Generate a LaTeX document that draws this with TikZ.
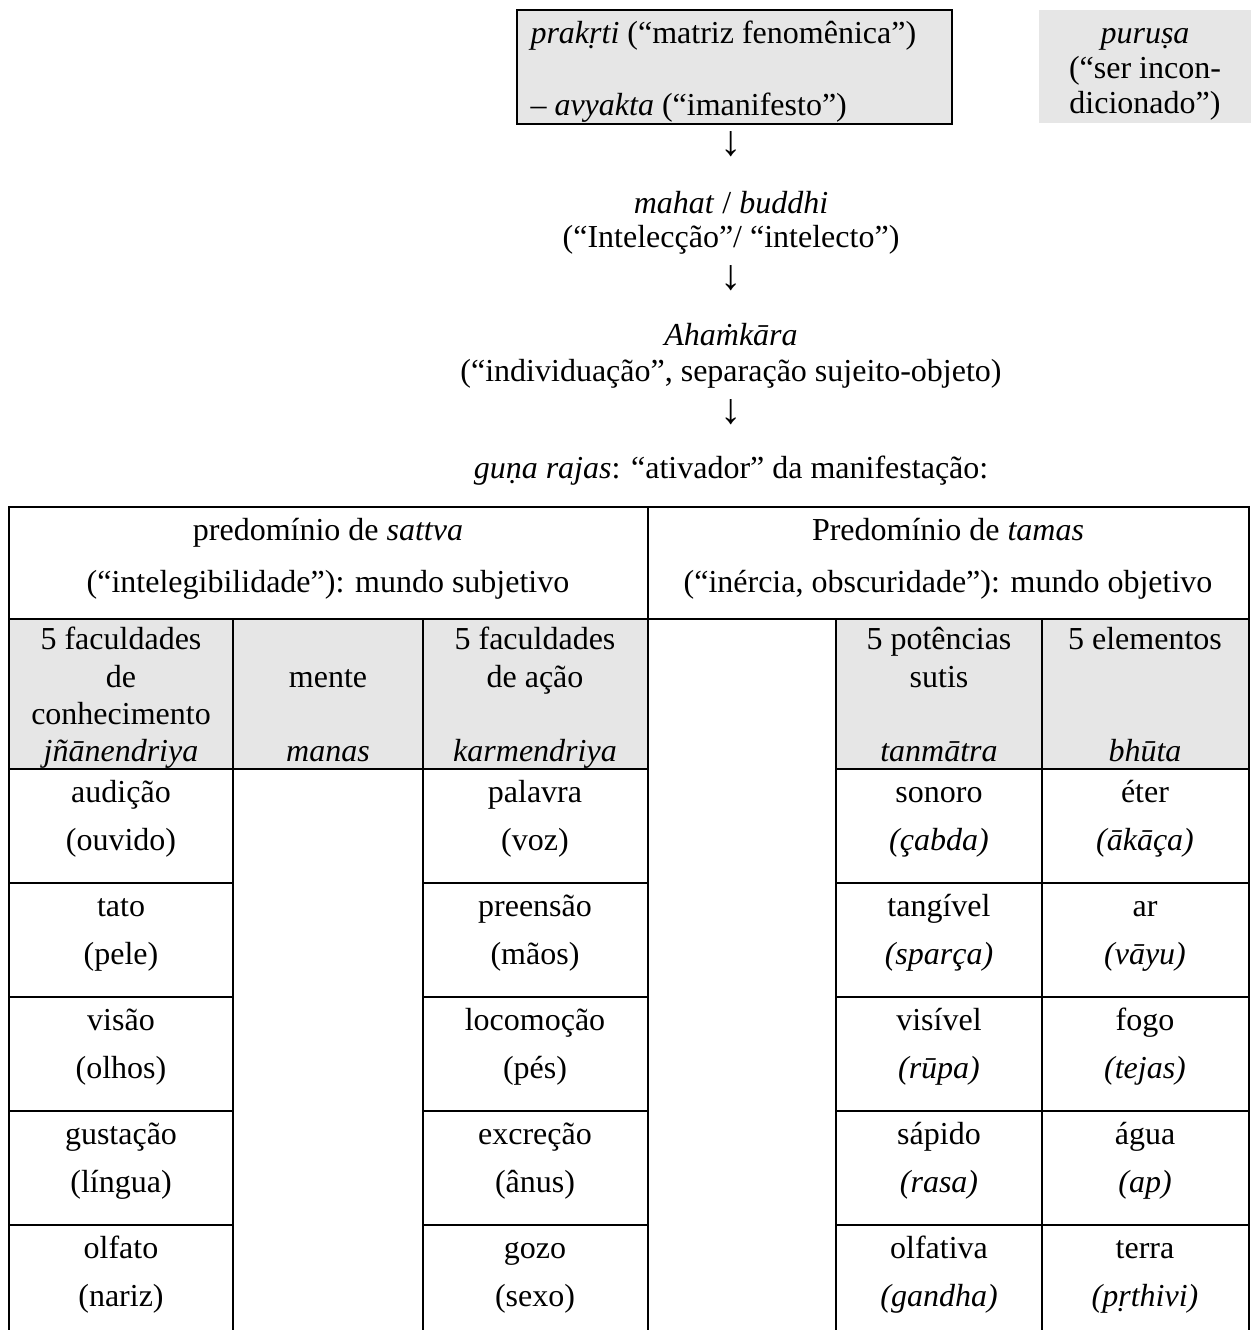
\documentclass[tikz,border=0pt]{standalone}
\usepackage{fontspec}
\setmainfont{Liberation Serif}
\usetikzlibrary{positioning}
\definecolor{cellgray}{RGB}{230,230,230}

\tikzset{
  toptext/.style={font=\fontsize{12}{14}\selectfont, anchor=base, inner sep=0pt},
  tabtext/.style={font=\fontsize{12}{14}\selectfont, anchor=base, inner sep=0pt},
  downarrow/.style={font=\fontsize{16}{18}\selectfont, anchor=base, inner sep=0pt},
  rule/.style={line width=0.8pt},
  graybox/.style={fill=cellgray, inner sep=0pt},
}

\begin{document}
\begin{tikzpicture}[x=0.375pt, y=-0.375pt]
  \useasboundingbox (0,0) rectangle (1252,1330);

  % top boxes
  \node[graybox, draw=black, rule, anchor=north west, minimum width=163.1pt, minimum height=42.8pt] (prakriti) at (516,9) {};
  \node[toptext, anchor=base west] (prak1) at (530,43) {\textit{prakṛti} (“matriz fenomênica”)};
  \node[toptext, anchor=base west] (prak2) at (530,115) {– \textit{avyakta} (“imanifesto”)};
  \node[graybox, anchor=north east, minimum width=79.5pt, minimum height=42.4pt] (purusa) at (1252,9) {};
  \node[toptext] (pur1) at (1145,43) {\textit{puruṣa}};
  \node[toptext] (pur2) at (1145,78) {(“ser incon-};
  \node[toptext] (pur3) at (1145,113) {dicionado”)};

  % chain of principles
  \node[downarrow] (arr1) at (731,155) {↓};
  \node[toptext] (mahat) at (731,213) {\textit{mahat} / \textit{buddhi}};
  \node[toptext] (intel) at (731,247) {(“Intelecção”/ “intelecto”)};
  \node[downarrow] (arr2) at (731,289) {↓};
  \node[toptext] (aham) at (731,345) {\textit{Ahaṁkāra}};
  \node[toptext] (indiv) at (731,381) {(“individuação”, separação sujeito-objeto)};
  \node[downarrow] (arr3) at (731,423) {↓};
  \node[toptext] (guna) at (731,478) {\textit{guṇa rajas}: “ativador” da manifestação:};

  % table shading
  \fill[cellgray] (9,619) rectangle (648,769);
  \fill[cellgray] (836,619) rectangle (1249,769);

  % table rules
  \draw[rule] (9,1330) -- (9,507) -- (1249,507) -- (1249,1330);
  \draw[rule] (648,507) -- (648,1330);
  \draw[rule] (9,619) -- (1249,619);
  \foreach \x in {233,423,836,1042}
    \draw[rule] (\x,619) -- (\x,1330);
  \draw[rule] (9,769) -- (648,769);
  \draw[rule] (836,769) -- (1249,769);
  \foreach \y in {883,997,1111,1225} {
    \draw[rule] (9,\y) -- (233,\y);
    \draw[rule] (423,\y) -- (648,\y);
    \draw[rule] (836,\y) -- (1249,\y);
  }

  % header
  \node[tabtext] (sattva) at (328,540) {predomínio de \textit{sattva}};
  \node[tabtext] (sattvab) at (328,592) {(“intelegibilidade”): mundo subjetivo};
  \node[tabtext] (tamas) at (948,540) {Predomínio de \textit{tamas}};
  \node[tabtext] (tamasb) at (948,592) {(“inércia, obscuridade”): mundo objetivo};

  % sub-header
  \node[tabtext] (jnana1) at (121,649) {5 faculdades};
  \node[tabtext] (jnana2) at (121,687) {de};
  \node[tabtext] (jnana3) at (121,724) {conhecimento};
  \node[tabtext] (jnana4) at (121,761) {\textit{jñānendriya}};
  \node[tabtext] (manas1) at (328,687) {mente};
  \node[tabtext] (manas2) at (328,761) {\textit{manas}};
  \node[tabtext] (karma1) at (535,649) {5 faculdades};
  \node[tabtext] (karma2) at (535,687) {de ação};
  \node[tabtext] (karma3) at (535,761) {\textit{karmendriya}};
  \node[tabtext] (tanma1) at (939,649) {5 potências};
  \node[tabtext] (tanma2) at (939,687) {sutis};
  \node[tabtext] (tanma3) at (939,761) {\textit{tanmātra}};
  \node[tabtext] (bhuta1) at (1145,649) {5 elementos};
  \node[tabtext] (bhuta2) at (1145,761) {\textit{bhūta}};

  % body rows
  \foreach \a/\b [count=\i] in {audição/(ouvido), tato/(pele), visão/(olhos), gustação/(língua), olfato/(nariz)} {
    \node[tabtext] (sense\i) at (121,{688+114*\i}) {\a};
    \node[tabtext] (organ\i) at (121,{736+114*\i}) {\b};
  }
  \foreach \a/\b [count=\i] in {palavra/(voz), preensão/(mãos), locomoção/(pés), excreção/(ânus), gozo/(sexo)} {
    \node[tabtext] (act\i) at (535,{688+114*\i}) {\a};
    \node[tabtext] (limb\i) at (535,{736+114*\i}) {\b};
  }
  \foreach \a/\b [count=\i] in {sonoro/(çabda), tangível/(sparça), visível/(rūpa), sápido/(rasa), olfativa/(gandha)} {
    \node[tabtext] (subtle\i) at (939,{688+114*\i}) {\a};
    \node[tabtext] (subtlen\i) at (939,{736+114*\i}) {\itshape\b};
  }
  \foreach \a/\b [count=\i] in {éter/(ākāça), ar/(vāyu), fogo/(tejas), água/(ap), terra/(pṛthivi)} {
    \node[tabtext] (elem\i) at (1145,{688+114*\i}) {\a};
    \node[tabtext] (elemn\i) at (1145,{736+114*\i}) {\itshape\b};
  }
\end{tikzpicture}
\end{document}
